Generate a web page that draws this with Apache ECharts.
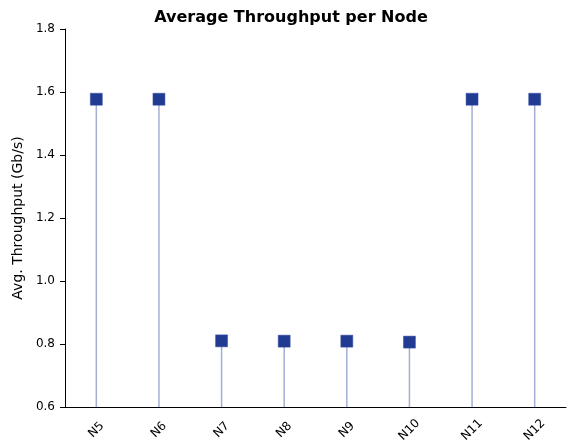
<!DOCTYPE html>
<html><head><meta charset="utf-8">
<script src="https://cdn.jsdelivr.net/npm/echarts@6/dist/echarts.min.js"></script>
<style>html,body{margin:0;padding:0;background:#fff}#c{width:568px;height:443px}</style>
</head><body><div id="c"></div>
<script>
var categories = ['N5','N6','N7','N8','N9','N10','N11','N12'];
var throughput = [1.577, 1.577, 0.81, 0.809, 0.809, 0.806, 1.577, 1.577];
var yTicks = [0.6, 0.8, 1.0, 1.2, 1.4, 1.6, 1.8];

var chart = echarts.init(document.getElementById('c'));
var font = '"DejaVu Sans"';
chart.setOption({
  animation: false,
  title: {text: 'Average Throughput per Node', left: 286, top: 5, textAlign: 'center',
    textStyle: {fontFamily: font, fontWeight: 'bold', fontSize: 16, color: '#000'}},
  grid: {left: 65, right: 2, top: 29, bottom: 36, containLabel: false, outerBoundsMode: 'none'},
  xAxis: {type: 'category', data: categories, boundaryGap: true,
    axisLine: {lineStyle: {color: '#000', width: 1}},
    axisTick: {alignWithLabel: true, length: 5, lineStyle: {color: '#000'}},
    axisLabel: {rotate: 45, fontFamily: font, fontSize: 12, color: '#000', margin: 23,
      align: 'center', verticalAlign: 'middle'}},
  yAxis: {type: 'value', min: yTicks[0], max: yTicks[yTicks.length-1], interval: 0.2,
    name: 'Avg. Throughput (Gb/s)', nameLocation: 'middle', nameGap: 38,
    nameTextStyle: {fontFamily: font, fontSize: 14, color: '#000'},
    axisLine: {show: true, lineStyle: {color: '#000'}},
    axisTick: {show: true, length: 5, lineStyle: {color: '#000'}},
    splitLine: {show: false},
    axisLabel: {fontFamily: font, fontSize: 12, color: '#000', margin: 10, formatter: function(v){return v.toFixed(1);}}},
  series: [
    {type: 'bar', data: throughput, barWidth: 1.5, itemStyle: {color: '#a3aed6'}, silent: true},
    {type: 'scatter', data: throughput, symbol: 'rect', symbolSize: 12,
      itemStyle: {color: '#213a92', opacity: 1, borderColor: '#3a52a8', borderWidth: 0.5}, z: 5}
  ]
});
</script></body></html>
